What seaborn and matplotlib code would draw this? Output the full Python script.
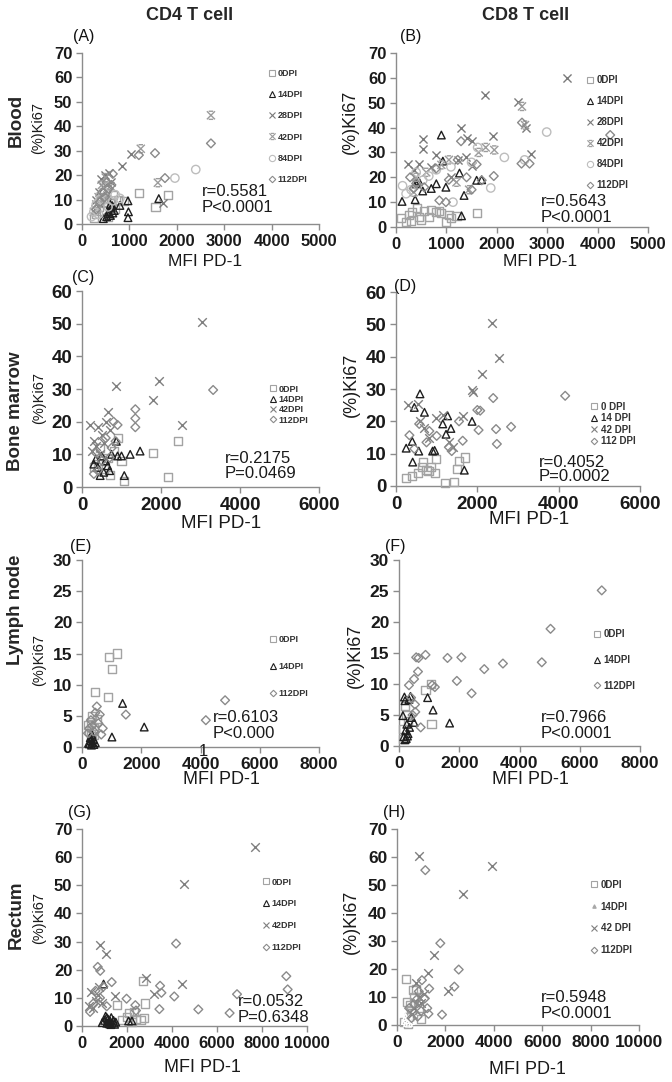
import matplotlib
matplotlib.use("Agg")
import matplotlib.pyplot as plt
import seaborn as sns
import pandas as pd
from matplotlib.path import Path
from matplotlib.lines import Line2D

sns.set_theme(style="ticks")
plt.rcParams['font.family'] = ['Liberation Sans', 'DejaVu Sans']

# ---- data: (MFI PD-1, %Ki67) ----
# (A) CD4 blood
a_0dpi = [(1200, 12.6), (1820, 11.8), (1550, 6.8), (300, 4), (350, 7), (420, 5.5), (480, 9), (550, 3),
          (620, 8.5), (700, 6), (760, 10), (880, 9.5), (250, 2.5), (400, 11), (650, 12)]
a_14dpi = [(970, 9.5), (980, 5), (970, 2.6), (800, 7.6), (1620, 10.4), (560, 5), (600, 3.5), (620, 6.5),
           (640, 7.5), (580, 4.2), (650, 4.5), (520, 3), (450, 2.2), (680, 5.5), (600, 8)]
a_28dpi = [(1030, 28.6), (840, 23.6), (1700, 8.8), (400, 18.5), (480, 20), (560, 21), (350, 13), (300, 10),
           (620, 17), (450, 15), (520, 12), (380, 8), (280, 6)]
a_42dpi = [(2720, 44.5), (1240, 30.8), (1600, 16.9), (500, 19), (420, 16), (600, 15.5), (350, 11), (300, 8),
           (550, 12.5), (450, 10), (250, 5)]
a_84dpi = [(2400, 22.3), (1960, 18.8), (200, 3), (250, 5), (300, 8), (380, 10), (450, 13), (700, 12),
           (650, 9.5), (550, 7), (800, 10.5), (350, 4)]
a_112dpi = [(2720, 33), (1540, 29), (1200, 28.2), (1750, 18.8), (650, 20.5), (520, 17), (430, 13), (300, 6),
            (560, 14.5), (620, 16), (380, 9), (480, 11)]

# (B) CD8 blood
b_0dpi = [(100, 3.5), (200, 2), (250, 5), (320, 6), (450, 4), (500, 3), (550, 6.5), (700, 7), (850, 6.5),
          (900, 5.5), (1000, 2), (1100, 3.5), (1200, 4.5), (1600, 5.5), (300, 2.5), (420, 7.5), (800, 6),
          (1050, 5), (650, 4)]
b_14dpi = [(900, 37), (930, 26.5), (120, 10.3), (400, 17.4), (530, 14.5), (380, 11), (800, 17.4), (990, 16),
           (1260, 21.7), (1350, 12.7), (1300, 4.5), (1600, 18.8), (1700, 19), (450, 18.5), (700, 15.5)]
b_28dpi = [(3400, 60), (1760, 53), (2420, 50.3), (2580, 40), (2670, 29.5), (1930, 36.6), (545, 35.5),
           (545, 31.5), (240, 25.5), (795, 28.8), (1290, 39.8), (1400, 36), (1500, 34.5), (1390, 28),
           (1240, 27), (1500, 24.5), (460, 25.5), (700, 24), (350, 23), (1100, 20)]
b_42dpi = [(2500, 48.5), (1950, 31), (1780, 32), (1640, 30), (2560, 41), (1050, 27), (900, 25), (600, 22),
           (400, 20), (1450, 15), (1200, 18), (350, 14)]
b_84dpi = [(2990, 38.2), (2150, 28), (1880, 15.7), (130, 16.6), (200, 13.4), (400, 22), (530, 18.8),
           (1090, 24.2), (2550, 27), (1620, 32), (650, 20.5), (800, 23), (1130, 10), (1500, 26), (300, 15)]
b_112dpi = [(4250, 37), (2500, 42), (2490, 25.5), (2650, 25.5), (1940, 20.5), (1290, 34.5), (1225, 27),
            (1600, 25.2), (280, 20), (400, 17.5), (795, 23.5), (860, 10.7), (990, 10), (1400, 20),
            (1700, 18.8), (560, 16), (1050, 19), (350, 15.5), (1500, 15)]

# (C) CD4 bone marrow
c_0dpi = [(2170, 3), (2440, 14), (1800, 10.5), (1070, 1.8), (1000, 8), (700, 3.6), (900, 15), (550, 5.5),
          (400, 7), (800, 11), (650, 9), (300, 6), (450, 12)]
c_14dpi = [(1470, 11), (870, 14), (1070, 3.5), (1220, 10), (460, 3.5), (300, 7), (350, 8.5), (400, 6),
           (500, 9.5), (600, 8), (700, 5), (750, 10), (900, 9.5), (1000, 9.5), (550, 4.5), (650, 6.5)]
c_42dpi = [(3030, 50.5), (1960, 32.5), (1810, 26.5), (850, 30.8), (650, 23), (2520, 18.9), (200, 19),
           (400, 18.5), (500, 16), (300, 14), (600, 20), (700, 17.5), (250, 11), (350, 12.5), (450, 10),
           (550, 13.5)]
c_112dpi = [(3320, 29.7), (1350, 23.8), (1350, 21), (1350, 18.3), (800, 20), (900, 19), (750, 12), (600, 15),
            (400, 5), (500, 8), (700, 9), (350, 10.5), (850, 14), (300, 4)]

# (D) CD8 bone marrow
d_0dpi = [(250, 2.5), (400, 3), (670, 7.4), (870, 6), (980, 8.4), (1500, 5.2), (1700, 8.8), (1560, 7.8),
          (1430, 1.3), (1200, 0.8), (750, 5), (550, 4), (800, 4.5), (950, 4), (650, 6)]
d_14dpi = [(590, 28.5), (450, 24.3), (700, 22.8), (1270, 21.7), (1150, 19.2), (1230, 16), (1350, 17.8),
           (1870, 20), (250, 11.7), (400, 13.8), (560, 10.8), (900, 10.8), (410, 7.4), (1680, 4.9), (950, 11)]
d_42dpi = [(2350, 50.3), (2540, 39.5), (2110, 34.7), (1870, 29.6), (1900, 29), (300, 25), (530, 25.4),
           (980, 21), (1640, 21.5), (1150, 22), (700, 18), (800, 15), (1300, 13.5), (1400, 12), (600, 20)]
d_112dpi = [(4160, 27.9), (2390, 27.2), (2070, 23.3), (2030, 17.3), (2460, 17.6), (2830, 18.3), (2480, 13),
            (1640, 14), (1370, 10.8), (570, 19.2), (330, 15.7), (820, 17), (1000, 15.5), (1300, 12),
            (1550, 20), (750, 13.5), (450, 11.5), (2000, 23.5)]

# (E) CD4 lymph node
e_0dpi = [(900, 14.5), (1180, 15), (1010, 12.5), (880, 8), (450, 8.8), (300, 4), (350, 5), (400, 3),
          (250, 2.5), (200, 3.5), (500, 4.5), (300, 2), (350, 1.5), (420, 2)]
e_14dpi = [(1370, 7), (2100, 3.2), (1010, 1.6), (250, 0.5), (300, 1), (350, 0.8), (400, 0.4), (280, 1.5),
           (320, 0.3), (380, 1.2), (450, 0.7), (220, 0.6), (330, 2)]
e_112dpi = [(4830, 7.5), (4180, 4.3), (1480, 5.2), (500, 6.5), (450, 5.5), (600, 5.2), (700, 3), (550, 3.8),
            (250, 3), (300, 4.3), (400, 2.5), (350, 3.4), (650, 2), (200, 2.2)]

# (F) CD8 lymph node
f_0dpi = [(880, 9), (1070, 10), (1080, 3.6), (200, 6.5), (130, 1.2), (250, 5), (300, 4), (150, 2.8)]
f_14dpi = [(130, 4.9), (180, 7.9), (200, 7.3), (950, 7.8), (1130, 5.8), (1680, 3.7), (410, 4.6), (160, 1.5),
           (220, 2.5), (260, 3.5), (300, 2), (350, 3), (200, 1), (280, 1.6), (380, 8), (330, 7.5), (500, 3.8),
           (240, 1.2)]
f_112dpi = [(6730, 25.1), (5030, 18.9), (4740, 13.5), (3450, 13.3), (2830, 12.4), (2410, 8.5), (1920, 10.5),
            (2070, 14.3), (1610, 14.2), (880, 14.7), (570, 14.3), (650, 14.2), (630, 12), (500, 10.8),
            (720, 3), (540, 5.5), (530, 6.7), (1100, 9.8), (1190, 9.5), (330, 9.8), (400, 7.8), (450, 5)]

# (G) CD4 rectum
g_0dpi = [(2730, 16), (2800, 8), (2770, 2.7), (2300, 5), (2000, 3.3), (1550, 7.5), (2400, 2.5), (2600, 2),
          (1800, 2), (2200, 1.5), (2100, 4.5)]
g_14dpi = [(960, 14.9), (2070, 1.8), (2220, 1.8), (1000, 2), (1100, 1), (1150, 2.5), (1200, 0.8), (1250, 1.8),
           (1300, 3), (1350, 1), (1400, 2), (1450, 0.6), (1050, 3.5), (1180, 1.5), (1280, 0.5), (1500, 1.4),
           (1100, 3), (900, 1.2)]
g_42dpi = [(7670, 63.7), (4550, 50.3), (4430, 15), (2850, 17.2), (3220, 11.5), (820, 28.8), (1080, 25.6),
           (1470, 10.6), (400, 12), (600, 9), (500, 6.5), (700, 11), (900, 8), (300, 7), (750, 14)]
g_112dpi = [(4180, 29.3), (4100, 10.5), (3470, 14.3), (3530, 11.8), (3440, 6), (5170, 5.9), (6560, 4.6),
            (6890, 11.3), (9080, 17.7), (9140, 13), (700, 21), (810, 19.6), (1320, 15.6), (1980, 9.7),
            (2370, 7.4), (950, 14), (360, 5), (500, 8), (600, 12.5), (800, 10), (1100, 7), (2400, 5.5)]

# (H) CD8 rectum
h_0dpi = [(370, 16.5), (410, 8.3), (300, 1), (500, 3), (600, 5), (700, 10), (800, 13), (900, 6), (1000, 2),
          (450, 0.5), (650, 12.5), (550, 7)]
h_14dpi = [(250, 1), (300, 2.5), (350, 0.5), (400, 1.5), (450, 3), (500, 2), (600, 1), (700, 4), (550, 0.3),
           (350, 3.5)]
h_42dpi = [(890, 60.5), (3920, 56.8), (2710, 46.7), (1510, 25), (1290, 18.5), (2090, 12), (800, 15),
           (900, 10), (1000, 8), (700, 6), (1100, 11), (600, 4)]
h_112dpi = [(1170, 55.3), (1790, 29.2), (2550, 19.8), (2370, 13.7), (1860, 3.7), (1330, 13), (1030, 16),
            (1300, 4), (1250, 6), (800, 9), (900, 12), (700, 7.5), (1000, 5), (600, 2.5), (500, 6), (950, 8),
            (1150, 9.5), (850, 3)]

stats = {
    "A": ["r=0.5581", "P<0.0001"], "B": ["r=0.5643", "P<0.0001"],
    "C": ["r=0.2175", "P=0.0469"], "D": ["r=0.4052", "P=0.0002"],
    "E": ["r=0.6103", "P<0.000"], "F": ["r=0.7966", "P<0.0001"],
    "G": ["r=0.0532", "P=0.6348"], "H": ["r=0.5948", "P<0.0001"],
}

# ---- marker styles ----
MV, LT = Path.MOVETO, Path.LINETO
star = Path([(-1, -1), (1, 1), (-1, 1), (1, -1), (-0.55, 1), (0.55, 1), (-0.55, -1), (0.55, -1)],
            [MV, LT, MV, LT, MV, LT, MV, LT])
STY = {
    "sq":   dict(marker="s", color="#a3a3a3", s=34, open=True, ms=4.5),
    "tri":  dict(marker="^", color="#1e1e1e", s=30, open=True, ms=4.5),
    "x28":  dict(marker="x", color="#7a7a7a", s=34, open=False, ms=4.5),
    "star": dict(marker=star, color="#9c9c9c", s=34, open=True, ms=4.5),
    "x":    dict(marker="x", color="#7f7f7f", s=38, open=False, ms=4.5),
    "circ": dict(marker="o", color="#bdbdbd", s=36, open=True, ms=4.5),
    "dia":  dict(marker="D", color="#8a8a8a", s=20, open=True, ms=3.3),
    "tiny": dict(marker="^", color="#a8a8a8", s=7, open=False, ms=2.5),
}

W, H = 672, 1082
fig = plt.figure(figsize=(W / 100, H / 100), dpi=100)
fig.patch.set_facecolor("white")


def fx(x):
    return x / W


def fy(y):
    return 1 - y / H


panels = [
    dict(k="A", box=(82, 53, 319, 224), xmax=5000, xstep=1000, ymax=70, ystep=10, fs=12, xl=(205, 261, 12.5),
         yl=(38, 128, 10.5), lab=(84, 37), st=(202, 192, 208), leg=(267, 70, 22.6, 6.5),
         groups=[("0DPI", a_0dpi, "sq"), ("14DPI", a_14dpi, "tri"), ("28DPI", a_28dpi, "x28"),
                 ("42DPI", a_42dpi, "star"), ("84DPI", a_84dpi, "circ"), ("112DPI", a_112dpi, "dia")]),
    dict(k="B", box=(396, 53, 648, 227), xmax=5000, xstep=1000, ymax=70, ystep=10, fs=12, xl=(540, 262, 12.5),
         yl=(350, 122, 13), lab=(411, 37), st=(541, 202, 218), leg=(585, 77, 22.2, 7),
         groups=[("0DPI", b_0dpi, "sq"), ("14DPI", b_14dpi, "tri"), ("28DPI", b_28dpi, "x28"),
                 ("42DPI", b_42dpi, "star"), ("84DPI", b_84dpi, "circ"), ("112DPI", b_112dpi, "dia")]),
    dict(k="C", box=(82, 291, 319, 487), xmax=6000, xstep=2000, ymax=60, ystep=10, fs=13.5, xl=(221, 524, 13.5),
         yl=(39, 398, 10.5), lab=(83, 278), st=(225, 459, 473), leg=(268, 387, 11.7, 6.5),
         groups=[("0DPI", c_0dpi, "sq"), ("14DPI", c_14dpi, "tri"), ("42DPI", c_42dpi, "x"),
                 ("112DPI", c_112dpi, "dia")]),
    dict(k="D", box=(396, 292, 640, 486), xmax=6000, xstep=2000, ymax=60, ystep=10, fs=13.5, xl=(529, 519, 13.5),
         yl=(351, 385, 13), lab=(405, 286), st=(539, 462, 477), leg=(589, 405, 12.6, 7),
         groups=[("0 DPI", d_0dpi, "sq"), ("14 DPI", d_14dpi, "tri"), ("42 DPI", d_42dpi, "x"),
                 ("112 DPI", d_112dpi, "dia")]),
    dict(k="E", box=(82, 560, 319, 747), xmax=8000, xstep=2000, ymax=30, ystep=5, fs=12.5, xl=(221, 780, 13),
         yl=(39, 660, 10.5), lab=(81, 547), st=(213, 718, 734), leg=(268, 638, 28.5, 6.5),
         groups=[("0DPI", e_0dpi, "sq"), ("14DPI", e_14dpi, "tri"), ("112DPI", e_112dpi, "dia")]),
    dict(k="F", box=(399, 560, 640, 746), xmax=8000, xstep=2000, ymax=30, ystep=5, fs=12.5, xl=(530, 780, 13),
         yl=(355, 656, 13), lab=(395, 547), st=(541, 717, 733), leg=(592, 633, 27, 7),
         groups=[("0DPI", f_0dpi, "sq"), ("14DPI", f_14dpi, "tri"), ("112DPI", f_112dpi, "dia")]),
    dict(k="G", box=(82, 829, 307, 1026), xmax=10000, xstep=2000, ymax=70, ystep=10, fs=12, xl=(202, 1068, 13),
         yl=(39, 918, 10.5), lab=(80, 813), st=(238, 1002, 1018), leg=(261, 880, 23.3, 6.5),
         groups=[("0DPI", g_0dpi, "sq"), ("14DPI", g_14dpi, "tri"), ("42DPI", g_42dpi, "x"),
                 ("112DPI", g_112dpi, "dia")]),
    dict(k="H", box=(397, 829, 639, 1025), xmax=10000, xstep=2000, ymax=70, ystep=10, fs=12.5, xl=(527, 1070, 13),
         yl=(351, 922, 13), lab=(394, 812), st=(541, 997, 1014), leg=(589, 883, 23, 7),
         groups=[("0DPI", h_0dpi, "sq"), ("14DPI", h_14dpi, "tiny"), ("42 DPI", h_42dpi, "x"),
                 ("112DPI", h_112dpi, "dia")]),
]

spine_c = "#8c8c8c"
for p in panels:
    l, t, r, b = p["box"]
    ax = fig.add_axes([fx(l), fy(b), fx(r - l), (b - t) / H])
    handles = []
    for name, pts, sk in p["groups"]:
        st = STY[sk]
        df = pd.DataFrame(pts, columns=["mfi", "ki67"])
        if st["open"]:
            sns.scatterplot(data=df, x="mfi", y="ki67", marker=st["marker"], s=st["s"], facecolor="none",
                            edgecolor=st["color"], linewidth=1.0, ax=ax, zorder=3, clip_on=False)
            h = Line2D([], [], linestyle="none", marker=st["marker"], markersize=st["ms"],
                       markerfacecolor="none", markeredgecolor=st["color"], markeredgewidth=0.8)
        else:
            sns.scatterplot(data=df, x="mfi", y="ki67", marker=st["marker"], s=st["s"], color=st["color"],
                            linewidth=1.0, ax=ax, zorder=3, clip_on=False)
            h = Line2D([], [], linestyle="none", marker=st["marker"], markersize=st["ms"],
                       color=st["color"], markeredgewidth=0.8)
        handles.append((h, name))

    ax.set_xlim(0, p["xmax"])
    ax.set_ylim(0, p["ymax"])
    ax.set_xticks(range(0, p["xmax"] + 1, p["xstep"]))
    ax.set_yticks(range(0, p["ymax"] + 1, p["ystep"]))
    for s in ["top", "right"]:
        ax.spines[s].set_visible(False)
    for s in ["left", "bottom"]:
        ax.spines[s].set_color(spine_c)
        ax.spines[s].set_linewidth(1.0)
    ax.tick_params(axis="both", direction="out", length=4, width=1, color=spine_c,
                   labelsize=p["fs"], labelcolor="#1a1a1a", pad=3)
    for tl in ax.get_xticklabels() + ax.get_yticklabels():
        tl.set_fontweight("bold")

    # axis titles
    xlx, xly, xfs = p["xl"]
    ax.set_xlabel("MFI PD-1", fontsize=xfs, color="#1a1a1a", va="center")
    ax.xaxis.set_label_coords((xlx - l) / (r - l), (b - xly) / (b - t))
    ylx, yly, yfs = p["yl"]
    ax.set_ylabel("(%)Ki67", fontsize=yfs, color="#1a1a1a", va="center")
    ax.yaxis.set_label_coords((ylx - l) / (r - l), (b - yly) / (b - t))

    # legend
    lx, ly0, pitch, lfs = p["leg"]
    n = len(handles)
    fpx = lfs * 100 / 72
    spacing = (pitch - 1.15 * fpx) / fpx
    yc = ly0 + pitch * (n - 1) / 2
    ax.legend([h for h, _ in handles], [nm for _, nm in handles], loc="center left",
              bbox_to_anchor=(fx(lx), fy(yc)), bbox_transform=fig.transFigure, frameon=False,
              prop={"size": lfs, "weight": "bold"}, labelspacing=spacing, handlelength=1.0,
              handletextpad=0.2, borderpad=0, borderaxespad=0, labelcolor="#333333")

    # panel letter and stats
    fig.text(fx(p["lab"][0]), fy(p["lab"][1]), "(%s)" % p["k"], fontsize=11.5, ha="center", va="center",
             color="#111111")
    sx, sy1, sy2 = p["st"]
    fig.text(fx(sx), fy(sy1), stats[p["k"]][0], fontsize=12, ha="left", va="center", color="#1a1a1a")
    fig.text(fx(sx), fy(sy2), stats[p["k"]][1], fontsize=12, ha="left", va="center", color="#1a1a1a")
    if p["k"] == "E":
        fig.text(fx(203), fy(751), "1", fontsize=12, ha="center", va="center", color="#1a1a1a")

# column and row titles
fig.text(fx(190), fy(15), "CD4 T cell", fontsize=13, fontweight="bold", ha="center", va="center")
fig.text(fx(526), fy(15), "CD8 T cell", fontsize=13, fontweight="bold", ha="center", va="center")
for name, yy in [("Blood", 120), ("Bone marrow", 411), ("Lymph node", 610), ("Rectum", 915)]:
    fig.text(fx(16), fy(yy), name, fontsize=13.5, fontweight="bold", rotation=90, ha="center", va="center")

plt.savefig("out.png", dpi=100, facecolor="white")
